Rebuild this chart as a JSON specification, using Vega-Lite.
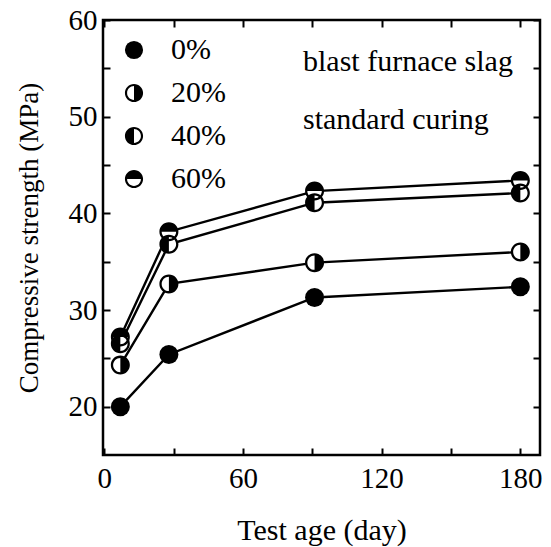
{
  "$schema": "https://vega.github.io/schema/vega-lite/v6.json",
  "width": 437,
  "height": 435,
  "autosize": {"type": "none"},
  "padding": {"left": 103, "top": 20, "right": 11, "bottom": 92},
  "background": "white",
  "config": {
    "view": {"stroke": "black", "strokeWidth": 2.5},
    "font": "Liberation Serif",
    "axis": {
      "grid": false,
      "domain": false,
      "tickColor": "black",
      "tickWidth": 2,
      "tickSize": -7,
      "labelFlush": false,
      "labelColor": "black",
      "titleColor": "black",
      "labelFont": "Liberation Serif",
      "titleFont": "Liberation Serif",
      "labelFontSize": 29,
      "titleFontSize": 28,
      "titleFontWeight": "normal"
    }
  },
  "datasets": {
    "strength": [
      {"group": "0%", "day": 7, "mpa": 20.0},
      {"group": "0%", "day": 28, "mpa": 25.4},
      {"group": "0%", "day": 91, "mpa": 31.3},
      {"group": "0%", "day": 180, "mpa": 32.4},
      {"group": "20%", "day": 7, "mpa": 24.3},
      {"group": "20%", "day": 28, "mpa": 32.7},
      {"group": "20%", "day": 91, "mpa": 34.9},
      {"group": "20%", "day": 180, "mpa": 36.0},
      {"group": "40%", "day": 7, "mpa": 26.5},
      {"group": "40%", "day": 28, "mpa": 36.8},
      {"group": "40%", "day": 91, "mpa": 41.1},
      {"group": "40%", "day": 180, "mpa": 42.1},
      {"group": "60%", "day": 7, "mpa": 27.2},
      {"group": "60%", "day": 28, "mpa": 38.1},
      {"group": "60%", "day": 91, "mpa": 42.3},
      {"group": "60%", "day": 180, "mpa": 43.4}
    ]
  },
  "layer": [
    {
      "data": {"name": "strength"},
      "mark": {"type": "line", "stroke": "black", "strokeWidth": 2.4},
      "encoding": {
        "x": {
          "field": "day", "type": "quantitative",
          "scale": {"domain": [-0.5, 188.5], "nice": false, "zero": false},
          "axis": {
            "orient": "bottom",
            "values": [0, 30, 60, 90, 120, 150, 180],
            "labelExpr": "datum.value % 60 === 0 ? datum.label : ''",
            "labelFont": "Liberation Serif",
            "labelFontSize": 29,
            "labelPadding": 16,
            "labelFlush": false,
            "title": "Test age (day)",
            "titleFont": "Liberation Serif",
            "titleFontSize": 30,
            "titleY": 75,
            "titleBaseline": "middle"
          }
        },
        "y": {
          "field": "mpa", "type": "quantitative",
          "scale": {"domain": [15, 60], "nice": false, "zero": false},
          "axis": {
            "orient": "left",
            "values": [20, 25, 30, 35, 40, 45, 50, 55, 60],
            "labelExpr": "datum.value % 10 === 0 ? datum.label : ''",
            "labelFont": "Liberation Serif",
            "labelFontSize": 29,
            "labelPadding": 13,
            "labelFlush": false,
            "title": "Compressive strength (MPa)",
            "titleFont": "Liberation Serif",
            "titleFontSize": 27,
            "titleX": -74,
            "titleBaseline": "middle"
          }
        },
        "detail": {"field": "group"}
      }
    },
    {
      "data": {"name": "strength"},
      "mark": {"type": "point", "shape": "circle", "filled": true, "fill": "white", "strokeWidth": 0, "size": 320, "opacity": 1},
      "encoding": {
        "x": {"field": "day", "type": "quantitative", "axis": {"orient": "top", "values": [0, 30, 60, 90, 120, 150, 180], "labels": false, "title": null}},
        "y": {"field": "mpa", "type": "quantitative", "axis": {"orient": "right", "values": [20, 25, 30, 35, 40, 45, 50, 55, 60], "labels": false, "title": null}}
      }
    },
    {
      "data": {"name": "strength"},
      "mark": {"type": "point", "filled": true, "fill": "black", "strokeWidth": 0, "size": 361, "opacity": 1},
      "encoding": {
        "x": {"field": "day", "type": "quantitative", "axis": null},
        "y": {"field": "mpa", "type": "quantitative", "axis": null},
        "shape": {
          "field": "group", "type": "nominal",
          "scale": {
            "domain": ["0%", "20%", "40%", "60%"],
            "range": [
              "circle",
              "M1,0A1,1,0,1,1,-1,0A1,1,0,1,1,1,0Z M0.76,0A0.76,0.76,0,1,0,-0.76,0A0.76,0.76,0,1,0,0.76,0Z M0,-0.76A0.76,0.76,0,0,1,0,0.76Z",
              "M1,0A1,1,0,1,1,-1,0A1,1,0,1,1,1,0Z M0.76,0A0.76,0.76,0,1,0,-0.76,0A0.76,0.76,0,1,0,0.76,0Z M0,0.76A0.76,0.76,0,0,1,0,-0.76Z",
              "M1,0A1,1,0,1,1,-1,0A1,1,0,1,1,1,0Z M0.76,0A0.76,0.76,0,1,0,-0.76,0A0.76,0.76,0,1,0,0.76,0Z M-0.76,0A0.76,0.76,0,0,1,0.76,0Z"
            ]
          },
          "legend": {
            "orient": "none",
            "legendX": 16,
            "legendY": 15,
            "title": null,
            "padding": 0,
            "symbolFillColor": "black",
            "symbolStrokeWidth": 0,
            "symbolSize": 330,
            "symbolOpacity": 1,
            "labelFont": "Liberation Serif",
            "labelFontSize": 30,
            "labelColor": "black",
            "labelOffset": 22,
            "rowPadding": 13
          }
        }
      }
    },
    {
      "data": {"values": [{"note": "blast furnace slag\nstandard curing"}]},
      "mark": {"type": "text", "align": "left", "baseline": "middle", "lineBreak": "\n", "lineHeight": 58, "fontSize": 30, "font": "Liberation Serif", "color": "black"},
      "encoding": {
        "text": {"field": "note"},
        "x": {"datum": 86, "type": "quantitative", "axis": null},
        "y": {"datum": 55.66, "type": "quantitative", "axis": null}
      }
    }
  ]
}
